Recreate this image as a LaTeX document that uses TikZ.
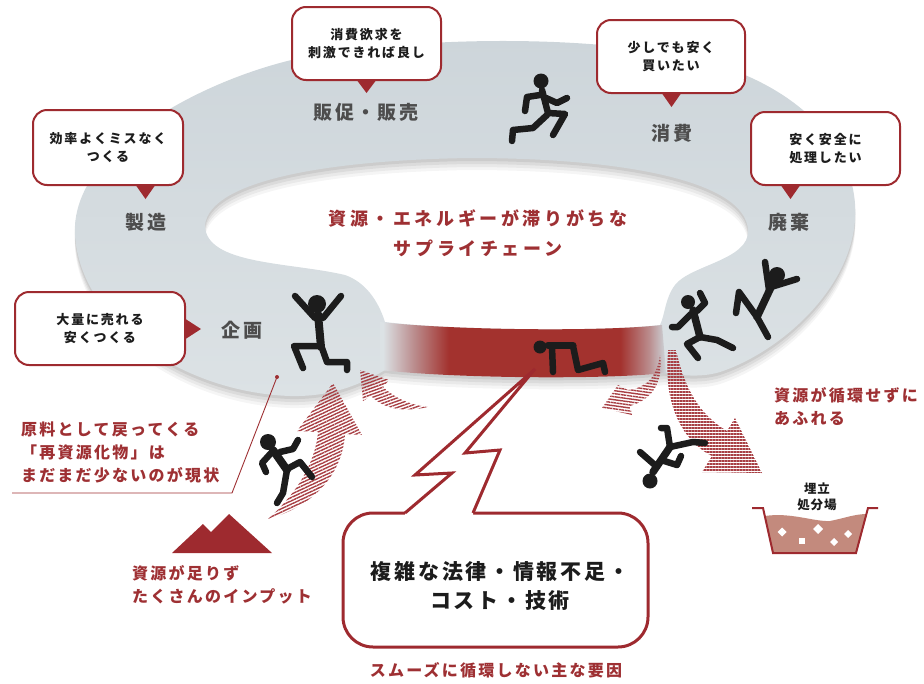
\documentclass[tikz,border=0pt]{standalone}
\usepackage{fontspec}
\setmainfont{Noto Sans CJK JP}
\usetikzlibrary{patterns.meta}

\definecolor{ringgray}{HTML}{CDD5DA}
\definecolor{ringlight}{HTML}{DCE2E5}
\definecolor{wine}{HTML}{9E2A2F}
\definecolor{bandred}{HTML}{A3322E}
\definecolor{textred}{HTML}{9E3033}
\definecolor{labelgray}{HTML}{4D4D4D}
\definecolor{ink}{HTML}{1C1C1C}
\definecolor{soil}{HTML}{C38A7D}

% the path box is mapped onto 25bp..75bp of the shading
\pgfdeclarehorizontalshading{bandshade}{100bp}{color(0bp)=(ringlight); color(25.5bp)=(ringlight); color(31bp)=(bandred!45!ringgray); color(37bp)=(bandred); color(67bp)=(bandred); color(72bp)=(bandred!45!ringgray); color(75bp)=(ringgray); color(100bp)=(ringgray)}

% outline of the ring and of its hole
\newcommand\ringOuterPath{(75,235) .. controls (70,150) and (200,80) .. (300,58)
  .. controls (420,35) and (600,35) .. (700,60)
  .. controls (800,85) and (860,150) .. (855,220)
  .. controls (850,290) and (780,352) .. (720,372)
  .. controls (700,378) and (680,375) .. (665,373)
  .. controls (600,380) and (450,378) .. (385,370)
  .. controls (360,385) and (330,397) .. (290,396)
  .. controls (180,392) and (80,320) .. (75,235) -- cycle}
\newcommand\ringInnerPath{(205,225) .. controls (210,180) and (330,160) .. (470,158)
  .. controls (620,158) and (745,180) .. (748,230)
  .. controls (750,260) and (690,265) .. (675,285)
  .. controls (665,298) and (665,315) .. (660,325)
  .. controls (600,332) and (450,330) .. (385,322)
  .. controls (378,300) and (365,282) .. (345,275)
  .. controls (290,262) and (205,265) .. (205,225) -- cycle}

\tikzset{
  bubble/.style={draw=wine, line width=2pt, fill=white, rounded corners=14pt,
    align=center, inner sep=0pt,
    font=\fontsize{13}{18}\selectfont\bfseries\addfontfeature{LetterSpace=14}, text=ink},
  pointer/.style={fill=wine},
  ringlabel/.style={font=\fontsize{19}{22}\selectfont\bfseries\addfontfeature{LetterSpace=12}, text=labelgray},
  redtext/.style={font=\fontsize{16}{23}\selectfont\bfseries\addfontfeature{LetterSpace=14}, text=textred, align=left, inner sep=0pt},
  fig/.style={draw=ink, line width=6.5pt, line cap=round, line join=round},
  hatch/.style={pattern={Lines[angle=#1,distance=3pt,line width=1.4pt]}, pattern color=wine!90},
}

\begin{document}
\begin{tikzpicture}[x=1pt,y=-1pt]
\useasboundingbox (0,0) rectangle (924,683);

% soft shadow under the ring
\foreach \s/\o in {12/0.04,9/0.05,6/0.06,3/0.07}
  \fill[black, opacity=\o, even odd rule, shift={(0,\s)}] \ringOuterPath \ringInnerPath;

% the ring
\path[even odd rule, top color=ringgray, bottom color=ringlight] \ringOuterPath \ringInnerPath;

% the congested red stretch
\path[shading=bandshade] (380,322) .. controls (450,330) and (600,332) .. (662,325)
  -- (666,373) .. controls (600,380) and (450,378) .. (380,370) -- cycle;

% stage labels
\node[ringlabel] (promo) at (366,112) {販促・販売};
\node[ringlabel] (consume) at (672,133) {消費};
\node[ringlabel] (make) at (146,222) {製造};
\node[ringlabel] (dispose) at (789,222) {廃棄};
\node[ringlabel] (plan) at (242,330) {企画};

% central caption
\node[font=\fontsize{18}{30}\selectfont\bfseries\addfontfeature{LetterSpace=20}, text=textred, align=center]
  (chain) at (478,233) {資源・エネルギーが滞りがちな\\サプライチェーン};

% speech bubbles of each stage
\node[bubble, minimum width=149pt, minimum height=73pt] (b1) at (366.5,43.5) {消費欲求を\\刺激できれば良し};
\fill[pointer] (356,79) -- (377,79) -- (366.5,93) -- cycle;
\node[bubble, minimum width=148pt, minimum height=73pt] (b2) at (671,56.5) {少しでも安く\\買いたい};
\fill[pointer] (661,92) -- (682,92) -- (671.5,107) -- cycle;
\node[bubble, minimum width=150pt, minimum height=75pt] (b3) at (108,147.5) {効率よくミスなく\\つくる};
\fill[pointer] (135,184) -- (156,184) -- (145.5,199) -- cycle;
\node[bubble, minimum width=149pt, minimum height=73pt] (b4) at (825.5,148.5) {安く安全に\\処理したい};
\fill[pointer] (780,184) -- (801,184) -- (790.5,199) -- cycle;
\node[bubble, minimum width=170pt, minimum height=73pt] (b5) at (100,328.5) {大量に売れる\\安くつくる};
\fill[pointer] (184,318) -- (184,340) -- (201,329) -- cycle;

% striped flow arrows
\path[hatch=25] (268,519) .. controls (295,495) and (315,465) .. (318,432) -- (297,431) -- (333,383)
  -- (362,435) -- (345,434) .. controls (343,470) and (318,505) .. (268,519) -- cycle;
\path[hatch=20] (360,370) -- (389,380) -- (383,387) .. controls (395,398) and (410,405) .. (428,407)
  .. controls (405,412) and (385,410) .. (371,396) -- (363,401) -- cycle;
\path[hatch=-8] (660,355) .. controls (657,378) and (645,388) .. (628,390) -- (618,385) -- (602,408)
  -- (632,415) -- (630,406) .. controls (650,400) and (664,385) .. (660,355) -- cycle;
\path[hatch=0] (668,350) .. controls (663,400) and (680,440) .. (712,456) -- (702,472) -- (762,473)
  -- (735,418) -- (727,431) .. controls (700,415) and (685,390) .. (676,350) -- cycle;

% people along the chain
% runner at the sales stage
\fill[ink] (541,81) circle[radius=7.5pt];
\draw[fig] (542,90) -- (548,113);
\draw[fig] (540,95) -- (527,97) -- (525,111);
\draw[fig] (546,98) -- (557,103) -- (567,98);
\draw[fig] (548,113) -- (565,114) -- (553,135);
\draw[fig] (547,115) -- (533,128) -- (513,130) -- (512,141);
% cheering figure at planning
\fill[ink] (317,304) circle[radius=9pt];
\draw[fig, line width=8pt] (318,314) -- (321,347);
\draw[fig] (315,318) -- (295,296);
\draw[fig] (323,318) -- (341,296);
\draw[fig] (319,346) -- (294,346) -- (303,368);
\draw[fig] (322,348) -- (327,362) -- (347,362) -- (347,370);
% climber coming back
\fill[ink] (268,442) circle[radius=8pt];
\draw[fig, line width=8pt] (273,450) -- (287,470);
\draw[fig] (272,452) -- (262,463) -- (266,472);
\draw[fig] (280,452) -- (293,449) -- (298,440);
\draw[fig] (287,469) -- (300,462) -- (312,477);
\draw[fig] (287,470) -- (283,493) -- (277,503);
% crawler on the congested stretch
\fill[ink] (540,347) circle[radius=6.5pt];
\draw[fig, line width=7pt] (548,345) -- (573,345);
\draw[fig] (552,347) -- (553,372);
\draw[fig] (573,346) -- (578,370) -- (603,363) -- (605,372);
% figures tumbling off at disposal
\fill[ink] (688,302) circle[radius=7pt];
\draw[fig, line width=7.5pt] (693,310) -- (700,337);
\draw[fig] (691,314) -- (678,327) -- (672,327);
\draw[fig] (697,311) -- (705,303) -- (700,293);
\draw[fig] (700,337) -- (687,344) -- (698,358);
\draw[fig] (700,337) -- (717,340) -- (733,348);
\fill[ink] (777,275) circle[radius=8pt];
\draw[fig, line width=7.5pt] (773,283) -- (757,317);
\draw[fig] (771,287) -- (797,279);
\draw[fig] (769,290) -- (765,262);
\draw[fig] (757,317) -- (739,292) -- (736,313);
\draw[fig] (757,317) -- (768,337);
\fill[ink] (650,481) circle[radius=7.5pt];
\draw[fig, line width=7.5pt] (653,472) -- (670,447);
\draw[fig] (670,447) -- (667,428) -- (661,428);
\draw[fig] (670,447) -- (693,442) -- (705,443);
\draw[fig] (656,466) -- (640,452);
\draw[fig] (661,460) -- (677,465) -- (681,456);

% annotation on recycled material
\draw[textred, line width=0.9pt] (12,493) -- (232,493) -- (277,377);
\fill[textred] (277,377) circle[radius=2pt];
\node[redtext, anchor=north west] (recyc) at (21,422) {原料として戻ってくる\\「再資源化物」は\\まだまだ少ないのが現状};

% raw resources
\fill[wine] (172,553) -- (203,524) -- (211,532) -- (229,514) -- (272,553) -- cycle;
\node[redtext, anchor=north west] (input) at (132,565) {資源が足りず\\たくさんのインプット};

% overflow to landfill
\node[redtext, anchor=north west] (overflow) at (774,387) {資源が循環せずに\\あふれる};
\fill[soil] (765,516) .. controls (790,512) and (815,522) .. (830,521)
  .. controls (845,518) and (855,514) .. (867,514) -- (856,553) -- (773,553) -- cycle;
\foreach \x/\y/\r in {782/532/4.5, 818/529/5, 834/542/4, 848/534/4}
  \fill[white] (\x,\y-\r) -- (\x+\r,\y) -- (\x,\y+\r) -- (\x-\r,\y) -- cycle;
\fill[white] (799,538) rectangle (805,544);
\draw[wine, line width=2pt] (752,508) -- (763,508) -- (773,553) -- (856,553) -- (868,508) -- (878,508);
\node[font=\fontsize{12.5}{16}\selectfont\bfseries\addfontfeature{LetterSpace=8}, text=ink, align=center] (landfill) at (817,497) {埋立\\処分場};

% main causes, with a lightning bolt from the congestion
\node[draw=wine, line width=3pt, fill=white, rounded corners=30pt, minimum width=305pt, minimum height=134pt,
  inner sep=0pt] (causes) at (495.5,580) {};
\fill[white] (473,513) -- (500,450) -- (465,453) -- (535,369) -- (415,475) -- (452,473) -- (405,513)
  -- (405,516) -- (473,516) -- cycle;
\draw[wine, line width=3pt, line join=miter] (473,513) -- (500,450) -- (465,453) -- (535,369) -- (415,475)
  -- (452,473) -- (405,513);
\node[font=\fontsize{21}{29}\selectfont\bfseries\addfontfeature{LetterSpace=13}, text=ink, align=center]
  (causetext) at (500,586) {複雑な法律・情報不足・\\コスト・技術};
\node[font=\fontsize{16}{20}\selectfont\bfseries\addfontfeature{LetterSpace=14}, text=textred]
  (causecap) at (496,670) {スムーズに循環しない主な要因};
\end{tikzpicture}
\end{document}
